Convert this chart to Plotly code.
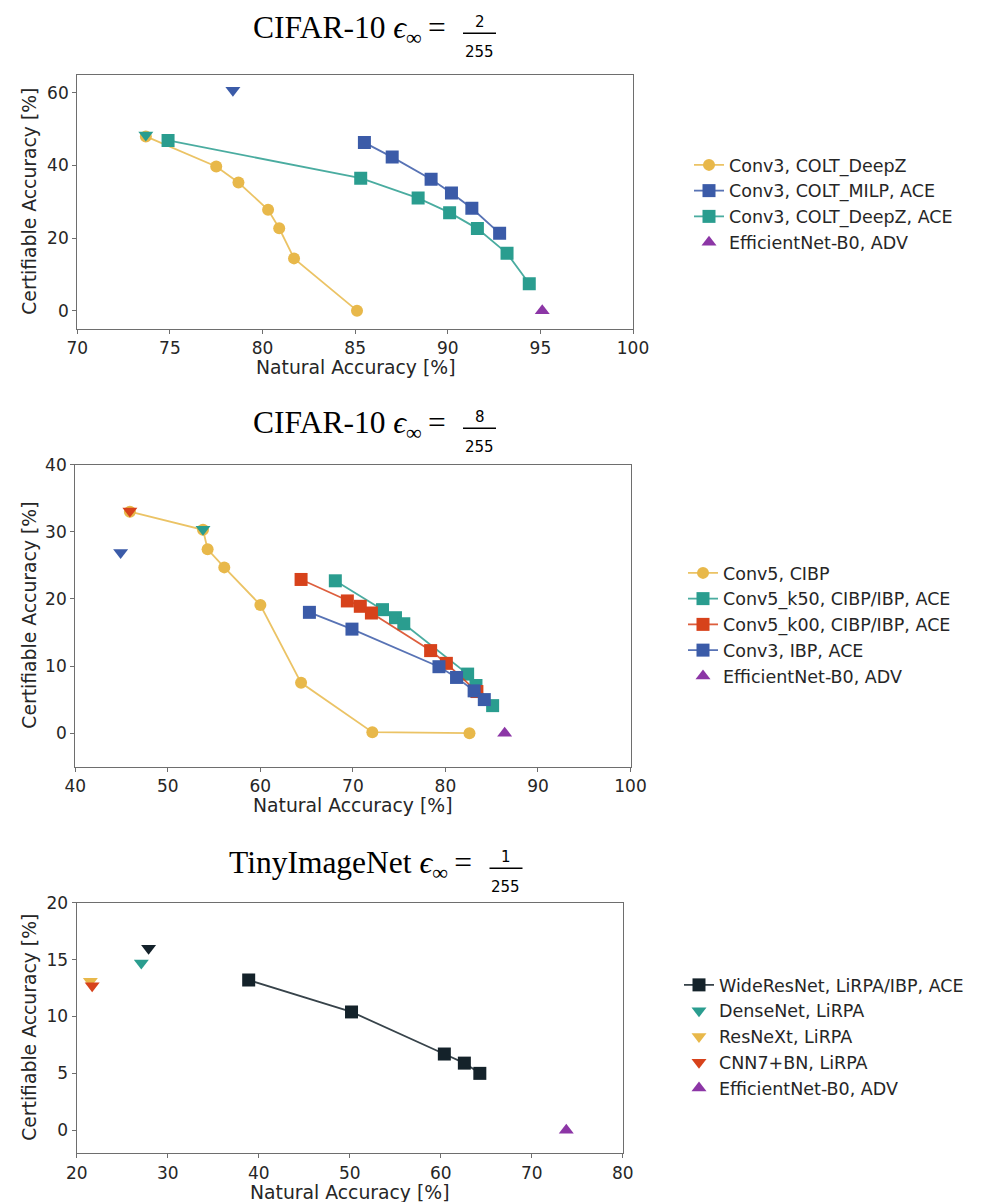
import plotly.graph_objects as go

W, H = 982, 1202
OFF = 8  # the page body adds an 8px margin around the plot div

# ---- CIFAR-10, eps = 2/255
p1_deepz_x = [73.7, 77.5, 78.7, 80.3, 80.9, 81.7, 85.1]
p1_deepz_y = [48.0, 39.7, 35.3, 27.8, 22.7, 14.4, 0.0]
p1_milp_ace_x = [85.5, 87.0, 89.1, 90.2, 91.3, 92.8]
p1_milp_ace_y = [46.3, 42.3, 36.2, 32.4, 28.2, 21.3]
p1_deepz_ace_x = [74.9, 85.3, 88.4, 90.1, 91.6, 93.2, 94.4]
p1_deepz_ace_y = [46.9, 36.5, 31.0, 27.0, 22.6, 15.8, 7.4]
p1_milp_tri = (78.4, 60.7)
p1_deepz_tri = (73.7, 48.4)
p1_effnet = (95.1, 0.0)

# ---- CIFAR-10, eps = 8/255
p2_cibp_x = [45.9, 53.8, 54.3, 56.1, 60.0, 64.4, 72.1, 82.6]
p2_cibp_y = [33.0, 30.3, 27.4, 24.7, 19.1, 7.5, 0.15, 0.0]
p2_k50_x = [68.1, 73.2, 74.6, 75.5, 82.4, 83.3, 85.1]
p2_k50_y = [22.7, 18.4, 17.2, 16.3, 8.8, 7.1, 4.1]
p2_k00_x = [64.4, 69.4, 70.8, 72.0, 78.4, 80.1, 83.4]
p2_k00_y = [22.9, 19.7, 18.9, 17.9, 12.3, 10.4, 6.2]
p2_ibp_x = [65.3, 69.9, 79.3, 81.2, 83.1, 84.2]
p2_ibp_y = [18.0, 15.5, 9.9, 8.3, 6.3, 5.0]
p2_k00_tri = (45.9, 33.1)
p2_k50_tri = (53.8, 30.4)
p2_ibp_tri = (44.9, 26.9)
p2_effnet = (86.4, 0.0)

# ---- TinyImageNet, eps = 1/255
p3_wrn_x = [38.9, 50.2, 60.4, 62.6, 64.3]
p3_wrn_y = [13.2, 10.4, 6.7, 5.9, 5.0]
p3_wrn_tri = (27.9, 16.0)
p3_densenet = (27.1, 14.7)
p3_resnext = (21.5, 13.1)
p3_cnn7 = (21.7, 12.7)
p3_effnet = (73.8, 0.0)

YELLOW = "#e8b84a"
BLUE = "#3b5ba8"
TEAL = "#2a9d8f"
RED = "#d7421b"
PURPLE = "#8c36a6"
DARK = "#14222a"


def fade(hex_color, a=0.85):
    h = hex_color.lstrip("#")
    r, g, b = int(h[0:2], 16), int(h[2:4], 16), int(h[4:6], 16)
    return f"rgba({r},{g},{b},{a})"


# screen pixel -> paper coordinate
def px_x(x):
    return (x - OFF) / W


def px_y(y):
    return 1 - (y - OFF) / H


fig = go.Figure()


def line(x, y, color, name, sym, size, n, leg=True):
    fig.add_trace(go.Scatter(
        x=x, y=y, mode="lines+markers", name=name,
        line=dict(color=fade(color), width=1.8),
        marker=dict(color=color, symbol=sym, size=size, line=dict(width=0)),
        xaxis=f"x{n}" if n > 1 else "x", yaxis=f"y{n}" if n > 1 else "y",
        legend=f"legend{n}" if n > 1 else "legend", showlegend=leg))


def point(pt, color, name, sym, n, leg=True):
    fig.add_trace(go.Scatter(
        x=[pt[0]], y=[pt[1]], mode="markers", name=name,
        marker=dict(color=color, symbol=sym, size=13, line=dict(width=0)),
        xaxis=f"x{n}" if n > 1 else "x", yaxis=f"y{n}" if n > 1 else "y",
        legend=f"legend{n}" if n > 1 else "legend", showlegend=leg))


# panel 1
line(p1_deepz_x, p1_deepz_y, YELLOW, "Conv3, COLT_DeepZ", "circle", 12, 1)
line(p1_milp_ace_x, p1_milp_ace_y, BLUE, "Conv3, COLT_MILP, ACE", "square", 13, 1)
line(p1_deepz_ace_x, p1_deepz_ace_y, TEAL, "Conv3, COLT_DeepZ, ACE", "square", 13, 1)
point(p1_milp_tri, BLUE, "", "triangle-down", 1, False)
point(p1_deepz_tri, TEAL, "", "triangle-down", 1, False)
point(p1_effnet, PURPLE, "EfficientNet-B0, ADV", "triangle-up", 1)

# panel 2
line(p2_cibp_x, p2_cibp_y, YELLOW, "Conv5, CIBP", "circle", 12, 2)
line(p2_k50_x, p2_k50_y, TEAL, "Conv5_k50, CIBP/IBP, ACE", "square", 13, 2)
line(p2_k00_x, p2_k00_y, RED, "Conv5_k00, CIBP/IBP, ACE", "square", 13, 2)
line(p2_ibp_x, p2_ibp_y, BLUE, "Conv3, IBP, ACE", "square", 13, 2)
point(p2_k00_tri, RED, "", "triangle-down", 2, False)
point(p2_k50_tri, TEAL, "", "triangle-down", 2, False)
point(p2_ibp_tri, BLUE, "", "triangle-down", 2, False)
point(p2_effnet, PURPLE, "EfficientNet-B0, ADV", "triangle-up", 2)

# panel 3
line(p3_wrn_x, p3_wrn_y, DARK, "WideResNet, LiRPA/IBP, ACE", "square", 13, 3)
point(p3_wrn_tri, DARK, "", "triangle-down", 3, False)
point(p3_densenet, TEAL, "DenseNet, LiRPA", "triangle-down", 3)
point(p3_resnext, YELLOW, "ResNeXt, LiRPA", "triangle-down", 3)
point(p3_cnn7, RED, "CNN7+BN, LiRPA", "triangle-down", 3)
point(p3_effnet, PURPLE, "EfficientNet-B0, ADV", "triangle-up", 3)

TICKFONT = dict(family="DejaVu Sans", size=17, color="#262626")
LABELFONT = dict(family="DejaVu Sans", size=18.8, color="#262626")
AX = dict(showline=True, mirror=True, linecolor="#6e6e6e", linewidth=1.3,
          ticks="outside", ticklen=4, tickcolor="#6e6e6e", showgrid=False,
          zeroline=False, tickfont=TICKFONT, automargin=False)

# plot boxes in screen pixels: (left, right, top, bottom)
boxes = [(77.3, 633.0, 74.7, 328.8), (75.3, 630.5, 464.7, 766.7), (76.7, 622.7, 902.7, 1153.0)]
xranges = [(70, 100, 5), (40, 100, 10), (20, 80, 10)]
yranges = [(-5, 65, 20), (-5, 40, 10), (-2, 20, 5)]

layout = dict(width=W, height=H, autosize=False, paper_bgcolor="white", plot_bgcolor="white",
              margin=dict(l=0, r=0, t=0, b=0))
annotations = []
shapes = []
for i, (box, xr, yr) in enumerate(zip(boxes, xranges, yranges), start=1):
    l, r, t, b = box
    sx = "" if i == 1 else str(i)
    layout[f"xaxis{sx}"] = dict(AX, domain=[px_x(l), px_x(r)], range=[xr[0], xr[1]],
                                dtick=xr[2], tick0=0, anchor=f"y{sx}")
    layout[f"yaxis{sx}"] = dict(AX, domain=[px_y(b), px_y(t)], range=[yr[0], yr[1]],
                                dtick=yr[2], tick0=0, anchor=f"x{sx}")
    annotations.append(dict(text="Natural Accuracy [%]", x=px_x((l + r) / 2), y=px_y(b + 39),
                            xref="paper", yref="paper", xanchor="center", yanchor="middle",
                            showarrow=False, font=LABELFONT))
    annotations.append(dict(text="Certifiable Accuracy [%]", x=px_x(30), y=px_y((t + b) / 2),
                            xref="paper", yref="paper", xanchor="center", yanchor="middle",
                            showarrow=False, textangle=-90, font=LABELFONT))

# titles: (text, fraction numerator, fraction centre x, fraction line y)
titles = [("CIFAR-10", "2", 479.5, 33.3), ("CIFAR-10", "8", 479.5, 428.3),
          ("TinyImageNet", "1", 506.0, 868.3)]
for name, num, cx, ly in titles:
    annotations.append(dict(text=f"{name} <i>ϵ</i><sub>∞</sub>\u2009=", x=px_x(cx - 32), y=px_y(ly - 3),
                            xref="paper", yref="paper", xanchor="right", yanchor="middle",
                            showarrow=False, font=dict(family="Liberation Serif", size=31.5, color="black")))
    annotations.append(dict(text=num, x=px_x(cx), y=px_y(ly - 11.6), xref="paper", yref="paper",
                            xanchor="center", yanchor="middle", showarrow=False,
                            font=dict(family="DejaVu Sans", size=15, color="black")))
    annotations.append(dict(text="255", x=px_x(cx), y=px_y(ly + 18.4), xref="paper", yref="paper",
                            xanchor="center", yanchor="middle", showarrow=False,
                            font=dict(family="DejaVu Sans", size=15, color="black")))
    shapes.append(dict(type="line", xref="paper", yref="paper", x0=px_x(cx - 16.5), x1=px_x(cx + 16.5),
                       y0=px_y(ly), y1=px_y(ly), line=dict(color="black", width=1.6)))

LEGFONT = dict(family="DejaVu Sans", size=17.5, color="#262626")
legend_pos = [(689, 147), (683, 555), (679, 967)]
for i, (lx, ly) in enumerate(legend_pos, start=1):
    key = "legend" if i == 1 else f"legend{i}"
    layout[key] = dict(x=px_x(lx), y=px_y(ly), xanchor="left", yanchor="top", font=LEGFONT,
                       bgcolor="rgba(0,0,0,0)", borderwidth=0, tracegroupgap=0)

layout["annotations"] = annotations
layout["shapes"] = shapes
fig.update_layout(**layout)

fig.write_html("out.html")
